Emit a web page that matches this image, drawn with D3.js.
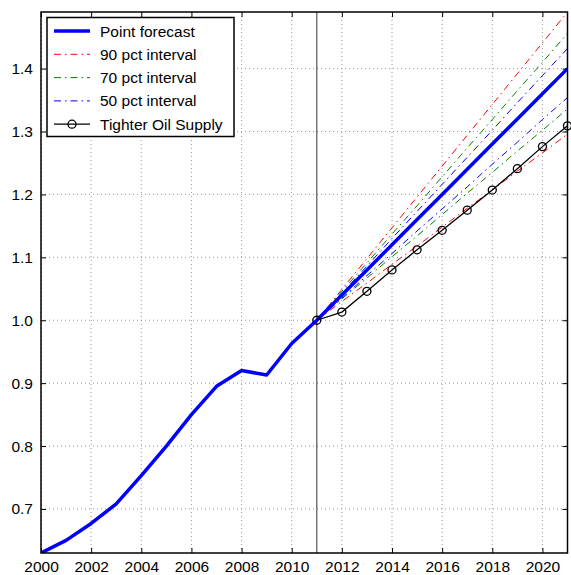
<!DOCTYPE html>
<html>
<head>
<meta charset="utf-8">
<script src="https://cdn.jsdelivr.net/npm/d3@7"></script>
<style>
    body { margin: 0; background: #fff; }
    text { font-family: "Liberation Sans", Arial, Helvetica, sans-serif; }
</style>
</head>
<body>
<div id="chart"></div>
<script>
var histYears = [2000, 2001, 2002, 2003, 2004, 2005, 2006, 2007, 2008, 2009, 2010, 2011];
var histValues = [0.630, 0.650, 0.677, 0.708, 0.753, 0.800, 0.850, 0.895, 0.920, 0.913, 0.963, 1.000];

var fcYears = [2011, 2012, 2013, 2014, 2015, 2016, 2017, 2018, 2019, 2020, 2021];
var pointForecast = [1.000, 1.040, 1.080, 1.120, 1.160, 1.200, 1.240, 1.280, 1.320, 1.360, 1.400];
var upper90 = [1.000, 1.049, 1.098, 1.147, 1.196, 1.245, 1.294, 1.343, 1.392, 1.441, 1.490];
var lower90 = [1.000, 1.030, 1.059, 1.089, 1.118, 1.148, 1.178, 1.207, 1.237, 1.266, 1.296];
var upper70 = [1.000, 1.046, 1.091, 1.137, 1.182, 1.228, 1.274, 1.319, 1.365, 1.410, 1.456];
var lower70 = [1.000, 1.034, 1.067, 1.101, 1.134, 1.168, 1.202, 1.235, 1.269, 1.302, 1.336];
var upper50 = [1.000, 1.043, 1.086, 1.130, 1.173, 1.216, 1.259, 1.302, 1.346, 1.389, 1.432];
var lower50 = [1.000, 1.035, 1.071, 1.106, 1.142, 1.177, 1.212, 1.248, 1.283, 1.319, 1.354];
var tighterOil = [1.000, 1.013, 1.046, 1.080, 1.112, 1.143, 1.175, 1.207, 1.241, 1.276, 1.309];

var xTicks = [2000, 2002, 2004, 2006, 2008, 2010, 2012, 2014, 2016, 2018, 2020];
var yTicks = [0.7, 0.8, 0.9, 1.0, 1.1, 1.2, 1.3, 1.4];
var forecastStart = 2011;

var legendLabels = ["Point forecast", "90 pct interval", "70 pct interval", "50 pct interval", "Tighter Oil Supply"];

function init(){

    var w = 571;
    var h = 575;
    var left = 41, right = 567.5, top = 12, bottom = 553;
    var dashDot = "7,4,1.5,4";

    var xScale = d3.scaleLinear()
                    .domain([2000, 2021])
                    .range([left, right]);
    var yScale = d3.scaleLinear()
                    .domain([0.63, 1.49])
                    .range([bottom, top]);

    var svg = d3.select("#chart")
                .append("svg")
                .attr("width", w)
                .attr("height", h);

    svg.append("clipPath").attr("id", "plotclip")
        .append("rect")
        .attr("x", left).attr("y", top)
        .attr("width", right - left).attr("height", bottom - top);

    // dotted grid
    svg.append("g")
        .selectAll("line")
        .data(xTicks)
        .enter()
        .append("line")
        .attr("x1", function(d){ return xScale(d); })
        .attr("x2", function(d){ return xScale(d); })
        .attr("y1", top)
        .attr("y2", bottom)
        .attr("stroke", "#999")
        .attr("stroke-width", 1)
        .attr("stroke-dasharray", "1,3");
    svg.append("g")
        .selectAll("line")
        .data(yTicks)
        .enter()
        .append("line")
        .attr("x1", left)
        .attr("x2", right)
        .attr("y1", function(d){ return yScale(d); })
        .attr("y2", function(d){ return yScale(d); })
        .attr("stroke", "#999")
        .attr("stroke-width", 1)
        .attr("stroke-dasharray", "1,3");

    // axes: labels outside, ticks pointing inward
    var xAxis = d3.axisBottom(xScale).tickValues(xTicks).tickFormat(d3.format("d")).tickSizeInner(-5).tickSizeOuter(0).tickPadding(8);
    var yAxis = d3.axisLeft(yScale).tickValues(yTicks).tickFormat(d3.format(".1f")).tickSizeInner(-5).tickSizeOuter(0).tickPadding(8);

    svg.append("g").attr("transform", "translate(0," + bottom + ")").call(xAxis);
    svg.append("g").attr("transform", "translate(" + left + ",0)").call(yAxis);
    svg.append("g").attr("transform", "translate(0," + top + ")")
        .call(d3.axisTop(xScale).tickValues(xTicks).tickFormat("").tickSizeInner(-5).tickSizeOuter(0));
    svg.append("g").attr("transform", "translate(" + right + ",0)")
        .call(d3.axisRight(yScale).tickValues(yTicks).tickFormat("").tickSizeInner(-5).tickSizeOuter(0));

    svg.selectAll(".domain").remove();
    svg.selectAll(".tick line").attr("stroke", "#000").attr("stroke-width", 1);
    svg.selectAll(".tick text").attr("font-size", "15.5px").attr("fill", "#000")
        .style("font-family", "'Liberation Sans', Arial, sans-serif");

    var line = d3.line()
                .x(function(d){ return xScale(d[0]); })
                .y(function(d){ return yScale(d[1]); });

    function pairs(xs, ys){
        return xs.map(function(x, i){ return [x, ys[i]]; });
    }

    var plot = svg.append("g").attr("clip-path", "url(#plotclip)");

    // forecast start marker
    plot.append("line")
        .attr("x1", xScale(forecastStart))
        .attr("x2", xScale(forecastStart))
        .attr("y1", top)
        .attr("y2", bottom)
        .attr("stroke", "#555")
        .attr("stroke-width", 1.2);

    var bands = [
        {data: upper90, color: "#ff0000"},
        {data: lower90, color: "#ff0000"},
        {data: upper70, color: "#008000"},
        {data: lower70, color: "#008000"},
        {data: upper50, color: "#0000ff"},
        {data: lower50, color: "#0000ff"}
    ];

    plot.selectAll("path.band")
        .data(bands)
        .enter()
        .append("path")
        .attr("class", "band")
        .attr("d", function(d){ return line(pairs(fcYears, d.data)); })
        .attr("fill", "none")
        .attr("stroke", function(d){ return d.color; })
        .attr("stroke-width", 1)
        .attr("stroke-dasharray", dashDot);

    plot.append("path")
        .attr("d", line(pairs(histYears, histValues).concat(pairs(fcYears.slice(1), pointForecast.slice(1)))))
        .attr("fill", "none")
        .attr("stroke", "#0000ff")
        .attr("stroke-width", 3.5)
        .attr("stroke-linejoin", "round");

    plot.append("path")
        .attr("d", line(pairs(fcYears, tighterOil)))
        .attr("fill", "none")
        .attr("stroke", "#000")
        .attr("stroke-width", 1.3);

    svg.append("g")
        .selectAll("circle")
        .data(pairs(fcYears, tighterOil))
        .enter()
        .append("circle")
        .attr("cx", function(d){ return xScale(d[0]); })
        .attr("cy", function(d){ return yScale(d[1]); })
        .attr("r", 4)
        .attr("fill", "none")
        .attr("stroke", "#000")
        .attr("stroke-width", 1.3);

    // box
    svg.append("rect")
        .attr("x", left)
        .attr("y", top)
        .attr("width", right - left)
        .attr("height", bottom - top)
        .attr("fill", "none")
        .attr("stroke", "#000")
        .attr("stroke-width", 1.5);

    // legend
    var legend = svg.append("g");
    legend.append("rect")
        .attr("x", 47)
        .attr("y", 17.5)
        .attr("width", 187)
        .attr("height", 119)
        .attr("fill", "#fff")
        .attr("stroke", "#000")
        .attr("stroke-width", 1.5);

    var legendStyles = [
        {color: "#0000ff", width: 3.5, dash: null, marker: false},
        {color: "#ff0000", width: 1, dash: dashDot, marker: false},
        {color: "#008000", width: 1, dash: dashDot, marker: false},
        {color: "#0000ff", width: 1, dash: dashDot, marker: false},
        {color: "#000", width: 1.3, dash: null, marker: true}
    ];

    var rows = legend.selectAll("g.row")
        .data(legendLabels)
        .enter()
        .append("g")
        .attr("class", "row")
        .attr("transform", function(d, i){ return "translate(0," + (31 + i * 23.3) + ")"; });

    rows.append("line")
        .attr("x1", 54)
        .attr("x2", 90)
        .attr("y1", 0)
        .attr("y2", 0)
        .attr("stroke", function(d, i){ return legendStyles[i].color; })
        .attr("stroke-width", function(d, i){ return legendStyles[i].width; })
        .attr("stroke-dasharray", function(d, i){ return legendStyles[i].dash; });

    rows.filter(function(d, i){ return legendStyles[i].marker; })
        .append("circle")
        .attr("cx", 72)
        .attr("cy", 0)
        .attr("r", 4)
        .attr("fill", "none")
        .attr("stroke", "#000")
        .attr("stroke-width", 1.3);

    rows.append("text")
        .attr("x", 100)
        .attr("y", 5.5)
        .attr("font-size", "15.5px")
        .attr("fill", "#000")
        .text(function(d){ return d; });
}
window.onload = init;
</script>
</body>
</html>
